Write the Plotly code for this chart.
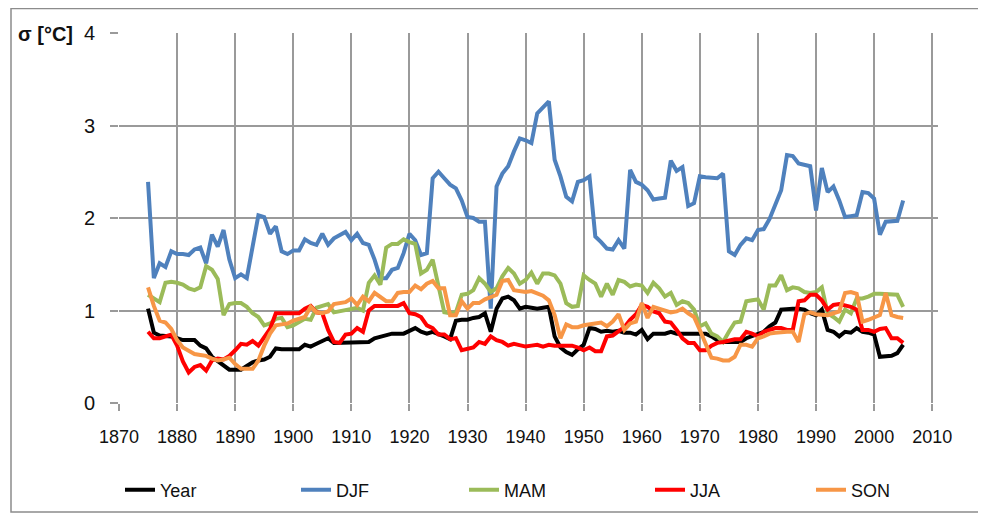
import plotly.graph_objects as go

years = list(range(1875, 2006))

year_sd = [
    1.02, 0.76, 0.73, 0.73, 0.72, 0.70, 0.68, 0.68, 0.68, 0.62,
    0.59, 0.50, 0.45, 0.41, 0.36, 0.36, 0.36, 0.40, 0.44, 0.46,
    0.47, 0.50, 0.59, 0.58, 0.58, 0.58, 0.58, 0.63, 0.61, 0.64,
    0.67, 0.70, 0.65, 0.65, 0.66, 0.66, 0.66, 0.66, 0.66, 0.70,
    0.72, 0.74, 0.75, 0.75, 0.75, 0.78, 0.81, 0.77, 0.75, 0.77,
    0.75, 0.72, 0.69, 0.89, 0.90, 0.90, 0.92, 0.93, 0.97, 0.77,
    1.02, 1.13, 1.15, 1.11, 1.02, 1.04, 1.03, 1.02, 1.03, 1.04,
    0.72, 0.60, 0.55, 0.52, 0.58, 0.63, 0.81, 0.80, 0.77, 0.78,
    0.77, 0.78, 0.76, 0.76, 0.74, 0.79, 0.69, 0.75, 0.75, 0.75,
    0.77, 0.75, 0.75, 0.75, 0.76, 0.76, 0.75, 0.72, 0.68, 0.66,
    0.66, 0.65, 0.66, 0.70, 0.72, 0.74, 0.77, 0.83, 0.87, 1.01,
    1.02, 1.02, 1.02, 1.01, 0.97, 0.95, 1.01, 0.79, 0.77, 0.72,
    0.77, 0.76, 0.81, 0.77, 0.76, 0.74, 0.50, 0.50, 0.51, 0.54,
    0.63,
]

djf = [
    2.39, 1.35, 1.51, 1.47, 1.64, 1.61, 1.61, 1.60, 1.66, 1.68,
    1.51, 1.82, 1.69, 1.87, 1.55, 1.35, 1.39, 1.35, 1.69, 2.03,
    2.01, 1.83, 1.91, 1.64, 1.61, 1.65, 1.65, 1.77, 1.73, 1.71,
    1.83, 1.71, 1.78, 1.81, 1.85, 1.76, 1.83, 1.73, 1.71, 1.55,
    1.35, 1.35, 1.44, 1.46, 1.62, 1.83, 1.76, 1.60, 1.62, 2.43,
    2.50, 2.43, 2.36, 2.32, 2.19, 2.01, 2.00, 1.96, 1.96, 1.02,
    2.34, 2.48, 2.56, 2.72, 2.86, 2.84, 2.81, 3.13, 3.19, 3.26,
    2.63, 2.45, 2.23, 2.18, 2.39, 2.41, 2.45, 1.80, 1.74, 1.67,
    1.66, 1.76, 1.67, 2.52, 2.39, 2.36, 2.30, 2.20, 2.21, 2.22,
    2.62, 2.51, 2.55, 2.13, 2.16, 2.45, 2.44, 2.43, 2.43, 2.48,
    1.64, 1.60, 1.71, 1.78, 1.76, 1.87, 1.88, 1.99, 2.14, 2.30,
    2.68, 2.67, 2.59, 2.57, 2.56, 2.08, 2.54, 2.28, 2.34, 2.19,
    2.01, 2.02, 2.03, 2.28, 2.27, 2.21, 1.82, 1.96, 1.97, 1.97,
    2.19,
]

mam = [
    1.17, 1.13, 1.09, 1.30, 1.31, 1.30, 1.28, 1.24, 1.22, 1.25,
    1.48, 1.44, 1.34, 0.95, 1.07, 1.08, 1.08, 1.04, 0.97, 0.93,
    0.84, 0.86, 0.91, 0.92, 0.82, 0.84, 0.88, 0.91, 0.90, 1.03,
    1.05, 1.07, 0.98, 0.99, 1.01, 1.01, 1.03, 1.00, 1.30, 1.38,
    1.28, 1.68, 1.72, 1.72, 1.77, 1.74, 1.72, 1.40, 1.44, 1.55,
    1.26, 0.98, 0.97, 0.98, 1.17, 1.18, 1.22, 1.35, 1.29, 1.20,
    1.24, 1.37, 1.46, 1.40, 1.29, 1.33, 1.41, 1.29, 1.40, 1.40,
    1.38, 1.29, 1.08, 1.04, 1.05, 1.38, 1.33, 1.29, 1.15, 1.29,
    1.17, 1.33, 1.31, 1.26, 1.28, 1.27, 1.19, 1.30, 1.24, 1.15,
    1.19, 1.06, 1.10, 1.08, 1.01, 0.83, 0.86, 0.75, 0.72, 0.66,
    0.77, 0.87, 0.88, 1.10, 1.11, 1.12, 1.01, 1.27, 1.27, 1.38,
    1.22, 1.25, 1.24, 1.20, 1.19, 1.20, 1.25, 0.97, 0.93, 0.88,
    1.01, 0.97, 1.13, 1.13, 1.15, 1.18, 1.18, 1.18, 1.18, 1.17,
    1.04,
]

jja = [
    0.77, 0.70, 0.70, 0.72, 0.74, 0.62, 0.45, 0.33, 0.39, 0.41,
    0.35, 0.46, 0.48, 0.47, 0.51, 0.57, 0.64, 0.63, 0.67, 0.62,
    0.72, 0.80, 0.97, 0.97, 0.96, 0.96, 0.97, 1.02, 1.05, 0.98,
    0.97, 0.79, 0.66, 0.65, 0.74, 0.75, 0.81, 0.77, 1.00, 1.05,
    1.05, 1.05, 1.05, 1.05, 1.08, 0.97, 0.96, 0.93, 0.84, 0.81,
    0.74, 0.74, 0.69, 0.70, 0.57, 0.59, 0.60, 0.66, 0.64, 0.72,
    0.68, 0.66, 0.62, 0.64, 0.62, 0.61, 0.62, 0.63, 0.61, 0.63,
    0.62, 0.62, 0.63, 0.62, 0.60, 0.57, 0.60, 0.56, 0.56, 0.72,
    0.73, 0.78, 0.82, 0.90, 0.96, 1.06, 1.04, 0.99, 0.97, 0.88,
    0.87, 0.79, 0.70, 0.65, 0.65, 0.57, 0.57, 0.62, 0.65, 0.66,
    0.68, 0.69, 0.69, 0.77, 0.75, 0.72, 0.77, 0.79, 0.81, 0.81,
    0.79, 0.79, 1.10, 1.11, 1.17, 1.17, 1.11, 1.01, 1.06, 1.07,
    1.06, 1.04, 1.01, 0.79, 0.79, 0.77, 0.80, 0.81, 0.70, 0.70,
    0.65,
]

son = [
    1.25, 1.05, 0.89, 0.87, 0.80, 0.68, 0.60, 0.56, 0.53, 0.52,
    0.51, 0.48, 0.46, 0.47, 0.49, 0.42, 0.37, 0.37, 0.37, 0.46,
    0.62, 0.75, 0.84, 0.85, 0.86, 0.89, 0.91, 0.93, 1.04, 0.98,
    0.97, 0.99, 1.07, 1.08, 1.09, 1.13, 1.06, 1.15, 1.10, 1.19,
    1.14, 1.10, 1.10, 1.19, 1.20, 1.20, 1.27, 1.23, 1.29, 1.32,
    1.24, 1.24, 0.95, 0.95, 1.10, 1.02, 1.08, 1.08, 1.12, 1.15,
    1.17, 1.32, 1.33, 1.22, 1.21, 1.20, 1.21, 1.19, 1.16, 1.11,
    0.95, 0.70, 0.85, 0.82, 0.82, 0.84, 0.85, 0.85, 0.87, 0.83,
    0.88, 0.96, 0.79, 0.86, 0.88, 1.08, 0.92, 1.04, 1.02, 0.99,
    0.98, 0.99, 1.02, 0.97, 0.93, 0.79, 0.65, 0.49, 0.48, 0.46,
    0.46, 0.50, 0.63, 0.63, 0.61, 0.70, 0.72, 0.75, 0.76, 0.77,
    0.77, 0.77, 0.66, 0.96, 0.98, 0.96, 0.95, 0.95, 0.97, 0.99,
    1.19, 1.20, 1.18, 0.88, 0.90, 0.92, 0.95, 1.19, 0.95, 0.93,
    0.92,
]

series_names = ["Year", "DJF", "MAM", "JJA", "SON"]
series_values = [year_sd, djf, mam, jja, son]
series_colors = ["#000000", "#4F81BD", "#9BBB59", "#FF0000", "#F79646"]

x_ticks = list(range(1870, 2011, 10))
y_ticks = [0, 1, 2, 3, 4]

# The page body has an 8px margin, so the figure is laid out in page
# coordinates minus that offset.
OFF = 8
W, H = 986 - OFF, 514 - OFF
L, T = 119 - OFF, 33 - OFF
R = W - (938 - OFF)
B = H - (403 - OFF)
pw = W - L - R
ph = H - T - B

def px_to_paper_x(px):
    return (px - OFF - L) / pw

def px_to_paper_y(py):
    return (H - B - (py - OFF)) / ph

legend_text_px = [160, 336, 504, 690, 851]

fig = go.Figure()
for i, (name, vals, col) in enumerate(zip(series_names, series_values, series_colors)):
    lg = "legend" if i == 0 else f"legend{i+1}"
    fig.add_trace(go.Scatter(
        x=years, y=vals, mode="lines", name=name,
        line=dict(color=col, width=4),
        legend=lg,
    ))

legend_common = dict(
    orientation="h",
    font=dict(family="Liberation Sans", size=18, color="#111111"),
    bgcolor="rgba(0,0,0,0)",
    yanchor="middle", xanchor="left",
    y=px_to_paper_y(490),
)
layout_legends = {}
for i, tx in enumerate(legend_text_px):
    key = "legend" if i == 0 else f"legend{i+1}"
    layout_legends[key] = dict(legend_common, x=px_to_paper_x(tx - 40))

grid_col = "#9A9A9A"
fig.update_layout(
    width=W, height=H,
    margin=dict(l=L, r=R, t=T, b=B, autoexpand=False),
    paper_bgcolor="white", plot_bgcolor="white",
    showlegend=True,
    xaxis=dict(
        range=[1870, 2011], tickmode="array", tickvals=x_ticks,
        ticktext=[str(v) for v in x_ticks],
        showgrid=True, gridcolor=grid_col, gridwidth=1.5,
        zeroline=False, showline=False,
        ticks="outside", ticklen=7, tickcolor=grid_col, tickwidth=1.5,
        tickfont=dict(family="Liberation Sans", size=18, color="#111111"),
        ticklabelstandoff=10,
    ),
    yaxis=dict(
        range=[0, 4], tickmode="array", tickvals=y_ticks,
        ticktext=[str(v) for v in y_ticks],
        showgrid=True, gridcolor=grid_col, gridwidth=1.5,
        zeroline=False, showline=False,
        ticks="outside", ticklen=8, tickcolor=grid_col, tickwidth=1.5,
        tickfont=dict(family="Liberation Sans", size=20, color="#111111"),
        ticklabelstandoff=11,
    ),
    annotations=[dict(
        text="<b>σ [°C]</b>", xref="paper", yref="paper",
        x=px_to_paper_x(16), y=px_to_paper_y(34),
        xanchor="left", yanchor="middle", showarrow=False,
        font=dict(family="Liberation Sans", size=20, color="#111111"),
    )],
    shapes=[dict(
        type="rect", xref="paper", yref="paper",
        x0=px_to_paper_x(11), x1=px_to_paper_x(984),
        y0=px_to_paper_y(512), y1=px_to_paper_y(8.5),
        line=dict(color="#8C8C8C", width=1.5), fillcolor="rgba(0,0,0,0)",
        layer="below",
    )],
    **layout_legends,
)

fig.write_html("out.html")
